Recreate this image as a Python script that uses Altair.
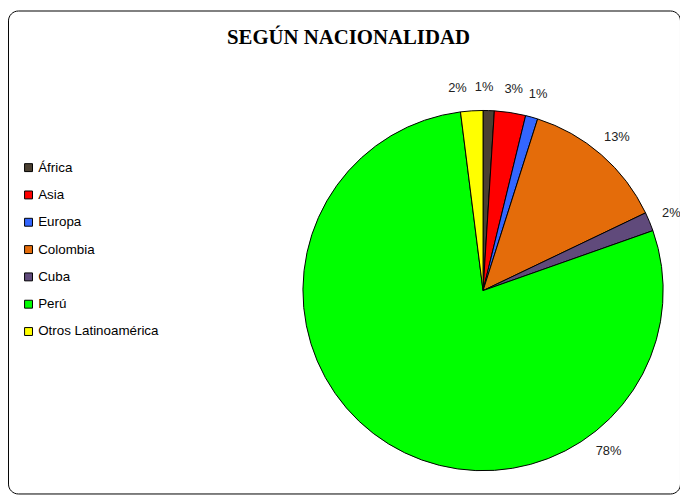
import altair as alt
import pandas as pd

TITLE = "SEGÚN NACIONALIDAD"
categories = ["África", "Asia", "Europa", "Colombia", "Cuba", "Perú", "Otros Latinoamérica"]
values = [1.0, 2.8, 1.1, 13.0, 1.7, 78.4, 2.0]
colors = ["#4B4032", "#FF0000", "#3366FF", "#E46C0A", "#604A7B", "#00FF00", "#FFFF00"]
# Excel moved some labels away from their slice's mid-angle (degrees, clockwise from top)
label_angle_override = {"África": 0.3, "Perú": 142.0, "Otros Latinoamérica": 352.8}

total = sum(values)
rows = []
cum = 0.0
for i, (c, v) in enumerate(zip(categories, values)):
    mid = (cum + v / 2) / total * 360.0
    cum += v
    rows.append({
        "cat": c,
        "val": v,
        "idx": i,
        "label": f"{round(v)}%",
        "label_deg": label_angle_override.get(c, mid),
    })
df = pd.DataFrame(rows)

CX, CY, R = 480, 283, 182

color_scale = alt.Scale(domain=categories, range=colors)

arcs = alt.Chart(df).mark_arc(radius=R, stroke="black", strokeWidth=1).encode(
    theta=alt.Theta("val:Q", stack=True, scale=alt.Scale(domain=[0, total])),
    order=alt.Order("idx:Q"),
    color=alt.Color(
        "cat:N",
        scale=color_scale,
        sort=categories,
        legend=alt.Legend(
            title=None,
            orient="none",
            legendX=14,
            legendY=152,
            symbolType="square",
            symbolSize=64,
            symbolStrokeColor="black",
            symbolStrokeWidth=1,
            labelFont="Liberation Sans",
            labelFontSize=13.5,
            labelColor="#000000",
            rowPadding=12.6,
            labelOffset=3,
        ),
    ),
    x=alt.value(CX),
    y=alt.value(CY),
)

labels = alt.Chart(df).mark_text(
    radius=206, font="Liberation Sans", fontSize=13, color="#222222",
    align="center", baseline="middle",
).encode(
    theta=alt.Theta("label_deg:Q", scale=alt.Scale(domain=[0, 360], range=[0, 6.283185307])),
    text="label:N",
    x=alt.value(CX),
    y=alt.value(CY),
)

title = alt.Chart(pd.DataFrame({"t": [TITLE]})).mark_text(
    font="Liberation Serif", fontSize=21, fontWeight="bold", color="#000000",
    align="center", baseline="alphabetic",
).encode(text="t:N", x=alt.value(344), y=alt.value(34))

chart = alt.layer(arcs, labels, title).resolve_scale(theta="independent").properties(
    width=679, height=488, padding=0, autosize=alt.AutoSizeParams(type="none"),
).configure_view(stroke="black", strokeWidth=1, cornerRadius=10)

chart.save("out.html", embed_options={"renderer": "svg", "actions": False})
